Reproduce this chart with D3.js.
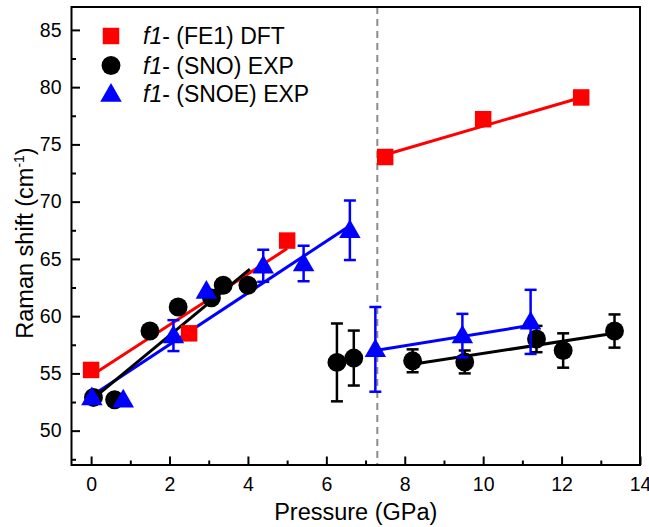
<!DOCTYPE html>
<html><head><meta charset="utf-8">
<script src="https://cdn.jsdelivr.net/npm/d3@7/dist/d3.min.js"></script>
<style>body{margin:0;background:#fff;} text{font-family:Arial,"Liberation Sans",sans-serif;}</style>
</head><body>
<svg id="c" width="649" height="527"></svg>
<script>
// ---- data ----
const fe1P = [0, 2.5, 5.0, 7.5, 10.0, 12.5];
const fe1W = [55.3, 58.5, 66.6, 73.9, 77.2, 79.1];

const snoP = [0.06, 0.6, 1.5, 2.22, 3.07, 3.37, 4.0, 6.27, 6.7, 8.2, 9.53, 11.36, 12.04, 13.35];
const snoW = [52.9, 52.7, 58.7, 60.8, 61.6, 62.7, 62.7, 55.96, 56.34, 56.1, 56.0, 58.0, 57.0, 58.7];
const snoE = [0, 0, 0, 0, 0, 0, 0, 3.4, 2.4, 1.0, 1.0, 1.15, 1.5, 1.45];

const snoeP = [0.02, 0.82, 2.1, 2.94, 4.39, 5.42, 6.6, 7.25, 9.47, 11.21];
const snoeW = [52.9, 52.7, 58.3, 62.2, 64.4, 64.6, 67.5, 57.1, 58.3, 59.5];
const snoeE = [0, 0, 1.35, 0, 1.4, 1.55, 2.6, 3.7, 1.9, 2.8];

// linear-fit segments: [p0, w0, p1, w1]
const fe1Fits  = [[0, 54.8, 5.0, 65.9], [7.5, 74.1, 12.5, 79.1]];
const snoFits  = [[0.05, 52.8, 4.05, 64.1], [8.2, 55.8, 13.35, 58.5]];
const snoeFits = [[0, 53.0, 6.6, 67.9], [7.25, 57.0, 11.21, 59.2]];

const transitionP = 7.3;
const xTicks = [0, 2, 4, 6, 8, 10, 12, 14];
const yTicks = [50, 55, 60, 65, 70, 75, 80, 85];

// ---- chart ----
const svg = d3.select("#c");
const L = 71.5, R = 640, T = 7, B = 465;
const x = d3.scaleLinear().domain([-0.5, 14]).range([L, R]);
const y = d3.scaleLinear().domain([47, 87]).range([B, T]);

const RED = "#ff0000", BLK = "#000000", BLU = "#0000ff";

// dashed transition line
svg.append("line").attr("x1", x(transitionP)).attr("x2", x(transitionP))
  .attr("y1", T).attr("y2", B).attr("stroke", "#8c8c8c").attr("stroke-width", 2)
  .attr("stroke-dasharray", "7,5");

// axes with inward ticks
const xAx = svg.append("g").attr("transform", `translate(0,${B})`)
  .call(d3.axisBottom(x).tickValues(xTicks).tickSizeInner(-8.5).tickSizeOuter(0).tickPadding(12));
const xMin = svg.append("g").attr("transform", `translate(0,${B})`)
  .call(d3.axisBottom(x).tickValues(d3.range(1, 14, 2)).tickSizeInner(-4.5).tickSizeOuter(0).tickFormat(""));
const yAx = svg.append("g").attr("transform", `translate(${L},0)`)
  .call(d3.axisLeft(y).tickValues(yTicks).tickSizeInner(-8.5).tickSizeOuter(0).tickPadding(10));
const yMin = svg.append("g").attr("transform", `translate(${L},0)`)
  .call(d3.axisLeft(y).tickValues([47.5, 52.5, 57.5, 62.5, 67.5, 72.5, 77.5, 82.5]).tickSizeInner(-4.5).tickSizeOuter(0).tickFormat(""));
[xAx, xMin, yAx, yMin].forEach(g => {
  g.select(".domain").remove();
  g.selectAll("line").attr("stroke", "#000").attr("stroke-width", 2);
  g.selectAll("text").attr("font-size", 19.5).attr("fill", "#000")
    .attr("font-family", "Arial, 'Liberation Sans', sans-serif");
});
xAx.selectAll("text").attr("dy", "0.71em");

// frame
svg.append("rect").attr("x", L).attr("y", T).attr("width", R - L).attr("height", B - T)
  .attr("fill", "none").attr("stroke", "#000").attr("stroke-width", 2);

// fit lines
function fits(arr, col) {
  svg.append("g").selectAll("line").data(arr).join("line")
    .attr("x1", d => x(d[0])).attr("y1", d => y(d[1]))
    .attr("x2", d => x(d[2])).attr("y2", d => y(d[3]))
    .attr("stroke", col).attr("stroke-width", 3);
}
fits(fe1Fits, RED);
fits(snoeFits, BLU);
fits(snoFits, BLK);

// error bars
function errs(P, W, E, col) {
  const d = P.map((p, i) => ({p, w: W[i], e: E[i]})).filter(o => o.e > 0);
  const g = svg.append("g").attr("stroke", col).attr("stroke-width", 2.5);
  g.selectAll(".v").data(d).join("line")
    .attr("x1", o => x(o.p)).attr("x2", o => x(o.p))
    .attr("y1", o => y(o.w - o.e)).attr("y2", o => y(o.w + o.e));
  g.selectAll(".t").data(d).join("line")
    .attr("x1", o => x(o.p) - 6).attr("x2", o => x(o.p) + 6)
    .attr("y1", o => y(o.w + o.e)).attr("y2", o => y(o.w + o.e));
  g.selectAll(".b").data(d).join("line")
    .attr("x1", o => x(o.p) - 6).attr("x2", o => x(o.p) + 6)
    .attr("y1", o => y(o.w - o.e)).attr("y2", o => y(o.w - o.e));
}

const sq = d3.symbol().type(d3.symbolSquare).size(272);
const ci = d3.symbol().type(d3.symbolCircle).size(280);
const tr = d3.symbol().type(d3.symbolTriangle).size(200);

// markers
svg.append("g").selectAll("path").data(fe1P).join("path")
  .attr("d", sq).attr("fill", RED)
  .attr("transform", (p, i) => `translate(${x(p)},${y(fe1W[i])})`);

errs(snoP, snoW, snoE, BLK);
svg.append("g").selectAll("path").data(snoP).join("path")
  .attr("d", ci).attr("fill", BLK)
  .attr("transform", (p, i) => `translate(${x(p)},${y(snoW[i])})`);

errs(snoeP, snoeW, snoeE, BLU);
svg.append("g").selectAll("path").data(snoeP).join("path")
  .attr("d", tr).attr("fill", BLU)
  .attr("transform", (p, i) => `translate(${x(p)},${y(snoeW[i]) + 1.5})`);

// legend
const legend = [
  {sym: sq, col: RED, name: " (FE1) DFT", yy: 36},
  {sym: ci, col: BLK, name: " (SNO) EXP", yy: 65.5},
  {sym: tr, col: BLU, name: " (SNOE) EXP", yy: 94}
];
const lg = svg.append("g");
legend.forEach(l => {
  lg.append("path").attr("d", l.sym).attr("fill", l.col)
    .attr("transform", `translate(111,${l.yy + (l.sym === tr ? 1.5 : 0)})`);
  const t = lg.append("text").attr("x", 143).attr("y", l.yy).attr("dy", "0.35em")
    .attr("font-size", 23).attr("fill", "#000");
  t.append("tspan").attr("font-style", "italic").text("f1");
  t.append("tspan").text("-" + l.name);
});

// axis titles
svg.append("text").attr("x", (L + R) / 2).attr("y", 520).attr("text-anchor", "middle")
  .attr("font-size", 23.5).attr("fill", "#000").text("Pressure (GPa)");
const yt = svg.append("text").attr("transform", `translate(33,243) rotate(-90)`)
  .attr("text-anchor", "middle").attr("font-size", 23.5).attr("fill", "#000");
yt.append("tspan").text("Raman shift (cm");
yt.append("tspan").attr("font-size", 14).attr("dy", -9).text("-1");
yt.append("tspan").attr("dy", 9).text(")");
</script>
</body></html>
